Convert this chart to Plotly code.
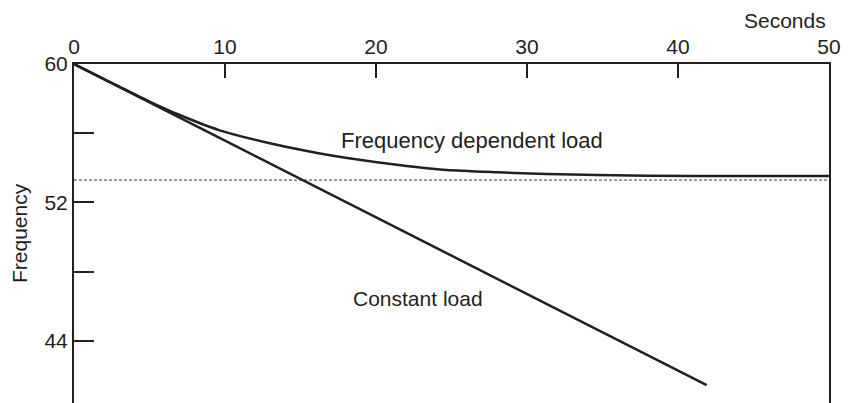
import plotly.graph_objects as go

# Frequency decay after loss of generation
t_freq_dep = [0, 1.5, 3.0, 5.0, 7.0, 9.6, 12.9, 16.2, 18.2, 21.5, 24.7, 28.0, 31.3, 34.6, 41.2, 50]
f_freq_dep = [60, 59.34, 58.69, 57.83, 57.05, 56.18, 55.43, 54.84, 54.55, 54.16, 53.87, 53.74, 53.64, 53.58, 53.52, 53.52]

t_const = [0, 41.9]
f_const = [60, 41.43]

steady_state = 53.29

x_ticks = [0, 10, 20, 30, 40, 50]
y_ticks = [60, 56, 52, 48, 44]
y_ticktext = ["60", "", "52", "", "44"]

INK = "#231f20"
FONT = "Liberation Sans, Arial, sans-serif"

fig = go.Figure()

fig.add_trace(go.Scatter(x=[0, 50], y=[steady_state, steady_state], mode="lines",
                         line=dict(color="#3a3a3a", width=1, dash="3px,2px")))
fig.add_trace(go.Scatter(x=t_freq_dep, y=f_freq_dep, mode="lines",
                         line=dict(color=INK, width=2.5, shape="spline", smoothing=0.6)))
fig.add_trace(go.Scatter(x=t_const, y=f_const, mode="lines",
                         line=dict(color=INK, width=2.5)))

# the page body has an 8px margin, so the figure is shrunk to fit inside it
fig.update_layout(
    width=833, height=395,
    margin=dict(l=66, r=12, t=56, b=0, autoexpand=False),
    paper_bgcolor="white", plot_bgcolor="white",
    showlegend=False,
    font=dict(family=FONT, size=21, color=INK),
    xaxis=dict(range=[0, 50], side="top", tickvals=x_ticks, automargin=False,
               ticklabeloverflow="allow",
               ticks="inside", ticklen=14, tickwidth=2, tickcolor=INK,
               showline=True, linewidth=2, linecolor=INK,
               showgrid=False, zeroline=False, fixedrange=True),
    yaxis=dict(range=[40.4, 60], tickvals=y_ticks, ticktext=y_ticktext, automargin=False,
               ticks="inside", ticklen=20, tickwidth=2, tickcolor=INK,
               showline=True, linewidth=2, linecolor=INK, mirror=True,
               showgrid=False, zeroline=False, fixedrange=True),
    annotations=[
        dict(x=26.36, y=55.6, text="Frequency dependent load", showarrow=False,
             xanchor="center", yanchor="middle", font=dict(size=22)),
        dict(x=22.78, y=46.47, text="Constant load", showarrow=False,
             xanchor="center", yanchor="middle", font=dict(size=21)),
        dict(xref="paper", yref="paper", x=0.9417, y=1.128, text="Seconds",
             xanchor="center", yanchor="middle", showarrow=False, font=dict(size=21)),
        dict(xref="paper", yref="paper", x=-0.0715, y=0.5015, text="Frequency",
             xanchor="center", yanchor="middle", textangle=-90, showarrow=False,
             font=dict(size=21)),
    ],
)

fig.write_html("out.html")
